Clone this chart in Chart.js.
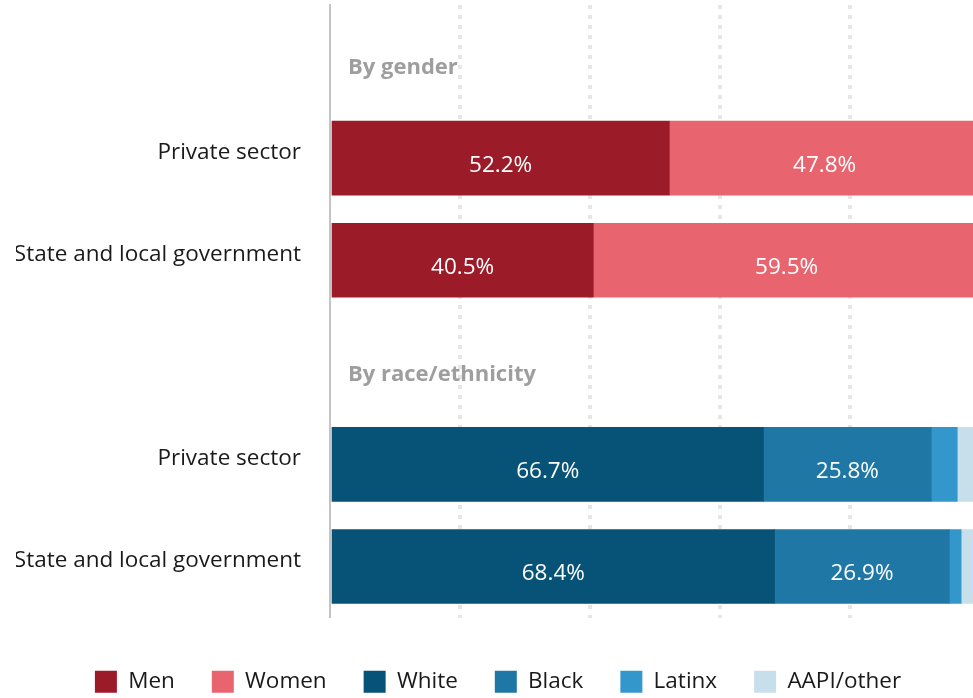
<!DOCTYPE html>
<html>
<head>
<meta charset="utf-8">
<script src="https://cdn.jsdelivr.net/npm/chart.js@4.4.1/dist/chart.umd.min.js"></script>
<style>
  html, body { margin:0; padding:0; background:#fff; overflow:hidden; }
  #wrap { width:980px; height:703px; position:relative; }
</style>
</head>
<body>
<div id="wrap"><canvas id="chart-share"></canvas></div>
<script>
'use strict';

// rows: blank rows hold the group headings
const rows = ['', 'Private sector', 'State and local government', '', 'Private sector', 'State and local government'];
const groupHeads = ['By gender', '', '', 'By race/ethnicity', '', ''];

const men    = [null, 52.2, 40.5, null, null, null];
const women  = [null, 47.8, 59.5, null, null, null];
const white  = [null, null, null, null, 66.7, 68.4];
const black  = [null, null, null, null, 25.8, 26.9];
const latinx = [null, null, null, null, 4.0, 1.8];
const aapi   = [null, null, null, null, 3.5, 2.9];

const FONT = 'Open Sans';

const headings = {
  id: 'headings',
  afterDatasetsDraw(chart) {
    const {ctx, chartArea, scales:{y}} = chart;
    ctx.save();
    ctx.font = `bold 22px "${FONT}"`;
    ctx.fillStyle = '#9e9e9e';
    ctx.textAlign = 'left';
    ctx.textBaseline = 'middle';
    groupHeads.forEach((t, i) => { if (t) ctx.fillText(t, chartArea.left + 18, y.getPixelForValue(i) + 12); });
    ctx.restore();
  }
};

const valueLabels = {
  id: 'valueLabels',
  afterDatasetsDraw(chart) {
    const {ctx} = chart;
    ctx.save();
    ctx.font = `22.5px "${FONT}"`;
    ctx.fillStyle = '#fff';
    ctx.textAlign = 'center';
    ctx.textBaseline = 'middle';
    chart.data.datasets.forEach((ds, di) => {
      chart.getDatasetMeta(di).data.forEach((bar, i) => {
        const v = ds.data[i];
        if (v == null || v < 10) return;
        const x = (bar.x + bar.base) / 2;
        ctx.fillText(v.toFixed(1) + '%', x, bar.y + 7);
      });
    });
    ctx.restore();
  }
};

const mk = (label, data, color) => ({label, data, backgroundColor:color, borderWidth:0, barThickness:74});

new Chart(document.getElementById('chart-share'), {
  type:'bar',
  data:{
    labels:rows,
    datasets:[
      mk('Men', men, '#9b1b28'),
      mk('Women', women, '#e86570'),
      mk('White', white, '#075277'),
      mk('Black', black, '#1f77a6'),
      mk('Latinx', latinx, '#3497cc'),
      mk('AAPI/other', aapi, '#c6dfeb'),
    ]
  },
  options:{
    indexAxis:'y',
    responsive:true, maintainAspectRatio:false, animation:false,
    layout:{padding:{top:5, bottom:0, left:16, right:0}},
    plugins:{
      tooltip:{enabled:false},
      legend:{position:'bottom', labels:{color:'#1a1a1a', font:{family:FONT, size:22.5}, boxWidth:22, boxHeight:22, padding:37}}
    },
    scales:{
      x:{
        stacked:true, min:0, max:100,
        ticks:{display:false, stepSize:20},
        grid:{color:c => c.tick && c.tick.value === 0 ? 'rgba(0,0,0,0)' : '#e6e6e6', lineWidth:4, drawTicks:false},
        border:{display:false, dash:[4,6]},
        afterFit:s => { s.height = 16; }
      },
      y:{
        stacked:true,
        grid:{display:false, drawTicks:false},
        border:{display:true, color:'#c4c4c4', width:2},
        ticks:{color:'#1a1a1a', font:{family:FONT, size:22.5}, padding:29, labelOffset:-6},
        afterFit:s => { s.width = 314; s.paddingTop = 0; s.paddingBottom = 0; }
      }
    }
  },
  plugins:[headings, valueLabels]
});
</script>
</body>
</html>
